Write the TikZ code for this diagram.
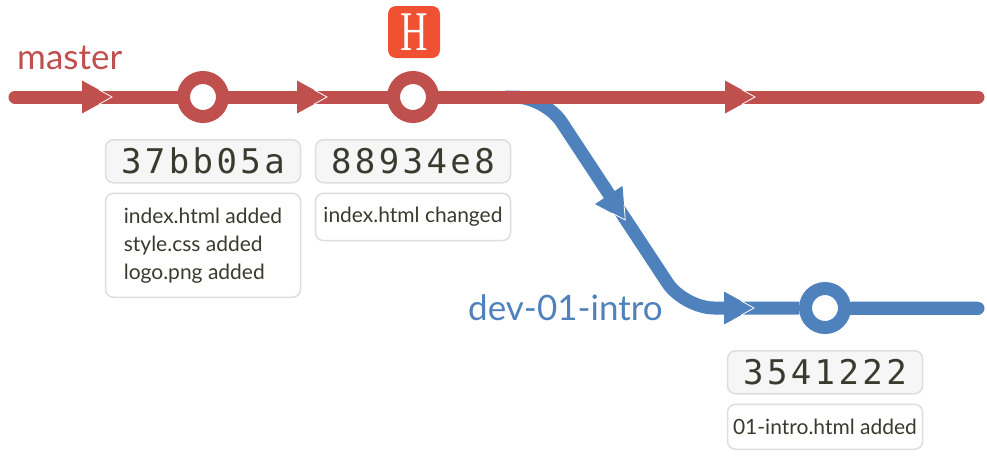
\documentclass[tikz,border=0pt]{standalone}
\usepackage{fontspec}
\setsansfont{Lato}
\newfontfamily\hashfont[LetterSpace=10]{DejaVu Sans Mono}
\newfontfamily\headfont{Liberation Serif}
\usetikzlibrary{positioning, calc, backgrounds}

\definecolor{gitred}{HTML}{C0504D}
\definecolor{gitblue}{HTML}{4F81BD}
\definecolor{gitorange}{HTML}{F05133}
\definecolor{textdark}{HTML}{3B3A2F}
\definecolor{boxline}{HTML}{DEDEDE}
\definecolor{boxfill}{HTML}{F6F6F6}

\tikzset{
    commit/.style={circle, draw=#1, fill=white, line width=13pt, minimum size=39pt, inner sep=0pt},
    branch/.style={draw=#1, line width=13pt, line cap=round},
    hashbox/.style={draw=boxline, fill=boxfill, line width=1.5pt, rounded corners=8pt,
        minimum width=195pt, minimum height=43pt, inner sep=0pt, text=textdark,
        font=\hashfont\fontsize{34}{34}\selectfont},
    msgbox/.style={draw=boxline, fill=white, line width=1.5pt, rounded corners=8pt,
        minimum width=195pt, minimum height=45pt, inner xsep=4pt, inner ysep=14pt,
        align=left, text=textdark, font=\sffamily\fontsize{21}{28}\selectfont},
    pics/tip/.style={code={
        \fill[#1] (-15,16.5) -- (15,0) -- (-15,-16.5) -- cycle;
        \draw[white, line width=0.8pt] (2,7.2) -- (15,0) -- (2,-7.2);
    }}
}

\begin{document}
\begin{tikzpicture}[x=1pt, y=-1pt, font=\sffamily]
    \useasboundingbox (0,0) rectangle (987,456);

    % commits
    \node[commit=gitred] (c1) at (203,97) {};
    \node[commit=gitred] (c2) at (413,97) {};
    \node[commit=gitblue] (c3) at (825,308) {};

    \coordinate (mstart) at (15,97);
    \coordinate (mend) at (978,97);
    \coordinate (fork) at (505,97);
    \coordinate (kneeA) at (545,97);
    \coordinate (kneeB) at (684,308);
    \coordinate (dend) at (978,308);

    \begin{scope}[on background layer]
        \draw[branch=gitblue, line cap=butt, rounded corners=30pt] (fork) -- (kneeA) -- (kneeB) -- (c3) -- (dend);
        \draw[gitblue, line width=13pt, line cap=round] (c3) -- (dend);
        \draw[branch=gitred] (mstart) -- (c1) -- (c2) -- (mend);
    \end{scope}

    \pic at (97,97) {tip=gitred};
    \pic at (312,97) {tip=gitred};
    \pic at (740,97) {tip=gitred};
    \pic[rotate=-56.6] at (617,207.5) {tip=gitblue};
    \pic at (739,308) {tip=gitblue};

    % labels
    \node[anchor=base west, inner sep=0pt, text=gitred, font=\sffamily\fontsize{35}{35}\selectfont] (master) at (17,69) {master};
    \node[anchor=base west, inner sep=0pt, text=gitblue, font=\sffamily\fontsize{35}{35}\selectfont] (dev) at (468,320) {dev-01-intro};
    \node[fill=gitorange, rounded corners=8pt, minimum size=52pt, inner sep=0pt, text=white,
        font=\headfont\fontsize{56}{56}\selectfont] (head) at (414,32) {\raisebox{-1pt}{\scalebox{0.68}[1]{H}}};

    % hashes and messages
    \node[hashbox, below=16pt of c1] (h1) {37bb05a};
    \node[hashbox, below=16pt of c2] (h2) {88934e8};
    \node[hashbox, below=16pt of c3] (h3) {3541222};
    \node[msgbox, below=9pt of h1, minimum height=104pt] (m1) {index.html added\\style.css added\\logo.png added};
    \node[msgbox, below=9pt of h2] (m2) {index.html changed};
    \node[msgbox, below=9pt of h3] (m3) {01-intro.html added};
\end{tikzpicture}
\end{document}
